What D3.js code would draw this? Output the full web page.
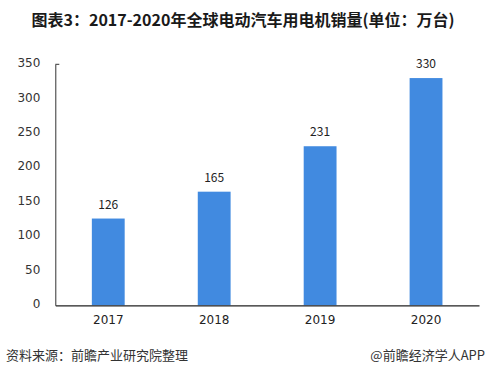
<!DOCTYPE html>
<html>
<head>
<meta charset="utf-8">
<script src="https://cdn.jsdelivr.net/npm/d3@7"></script>
<style>
  html, body { margin: 0; padding: 0; background: #fff; }
  svg { display: block; font-family: "Noto Sans CJK SC", "DejaVu Sans", sans-serif; }
</style>
</head>
<body>
<div id="chart"></div>
<script>
// data
const years = ["2017", "2018", "2019", "2020"];
const sales = [126, 165, 231, 330];
const yTicks = [0, 50, 100, 150, 200, 250, 300, 350];

const titleText = "图表3：2017-2020年全球电动汽车用电机销量(单位：万台)";
const sourceText = "资料来源：前瞻产业研究院整理";
const brandText = "@前瞻经济学人APP";

const width = 486, height = 376;
const margin = { top: 64.3, right: 7, bottom: 70.7, left: 55.3 };

const svg = d3.select("#chart").append("svg")
    .attr("width", width)
    .attr("height", height);

// Title
svg.append("text")
    .attr("x", 243)
    .attr("y", 26)
    .attr("text-anchor", "middle")
    .attr("font-size", 16)
    .attr("font-weight", "bold")
    .attr("fill", "#1a1a1a")
    .text(titleText);

const x = d3.scaleBand()
    .domain(years)
    .range([margin.left, width - margin.right])
    .paddingInner(0.69)
    .paddingOuter(0.345);

const y = d3.scaleLinear()
    .domain([0, 350])
    .range([height - margin.bottom, margin.top]);

// Bars
svg.append("g")
    .selectAll("rect")
    .data(sales)
    .enter()
    .append("rect")
    .attr("x", (d, i) => x(years[i]))
    .attr("y", d => y(d))
    .attr("width", x.bandwidth())
    .attr("height", d => y(0) - y(d))
    .attr("fill", "#418ae0");

// Value labels
svg.append("g")
    .selectAll("text")
    .data(sales)
    .enter()
    .append("text")
    .attr("x", (d, i) => x(years[i]) + x.bandwidth() / 2)
    .attr("y", d => y(d) - 10)
    .attr("text-anchor", "middle")
    .attr("font-size", 12)
    .attr("fill", "#222")
    .text(d => d);

// Y axis
const yAxis = svg.append("g")
    .attr("transform", `translate(${margin.left},0)`)
    .call(d3.axisLeft(y).tickValues(yTicks).tickSize(0).tickPadding(15));
yAxis.select(".domain").attr("stroke", "#333");
yAxis.selectAll("text")
    .attr("font-size", 12)
    .attr("fill", "#333")
    .attr("font-family", "\"DejaVu Sans\", sans-serif")
    .attr("dy", "0.2em");
// small tick at top end
yAxis.append("line")
    .attr("x1", 0).attr("x2", 4)
    .attr("y1", y(350)).attr("y2", y(350))
    .attr("stroke", "#333");

// X axis
const xAxis = svg.append("g")
    .attr("transform", `translate(0,${y(0)})`)
    .call(d3.axisBottom(x).tickSize(0).tickPadding(10));
xAxis.select(".domain").attr("stroke", "#222").attr("stroke-width", 1.2);
xAxis.selectAll("text")
    .attr("font-size", 12)
    .attr("fill", "#222")
    .attr("font-family", "\"DejaVu Sans\", sans-serif");

// Footer
svg.append("text")
    .attr("x", 6)
    .attr("y", 360)
    .attr("font-size", 13)
    .attr("fill", "#333")
    .text(sourceText);

svg.append("text")
    .attr("x", 485)
    .attr("y", 360)
    .attr("text-anchor", "end")
    .attr("font-size", 13)
    .attr("fill", "#333")
    .text(brandText);
</script>
</body>
</html>
